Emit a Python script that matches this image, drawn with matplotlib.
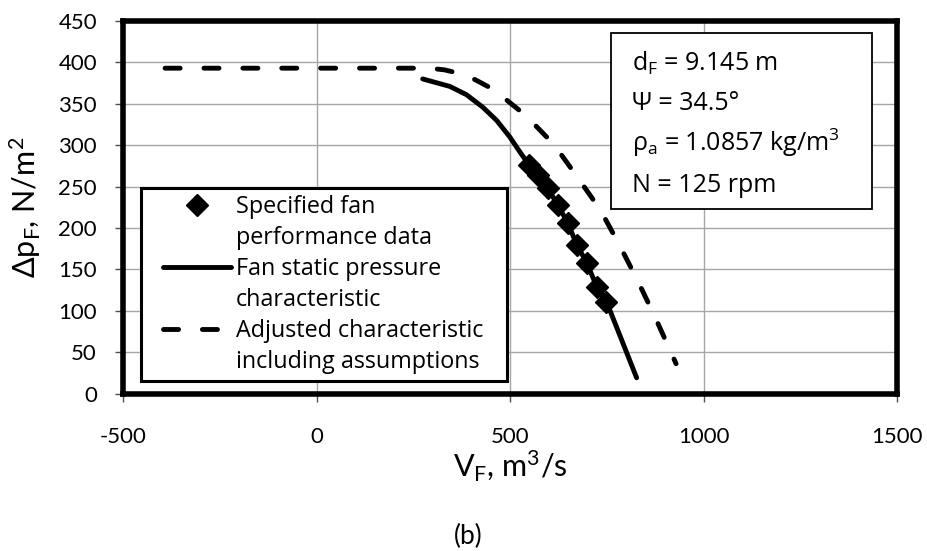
import matplotlib
matplotlib.use('Agg')
import matplotlib.pyplot as plt
from matplotlib.lines import Line2D
from matplotlib.legend_handler import HandlerLine2D
from matplotlib.patches import Rectangle

plt.rcParams['font.family'] = ['Lato', 'DejaVu Sans']
plt.rcParams['mathtext.fontset'] = 'custom'
plt.rcParams['mathtext.rm'] = 'Lato'
plt.rcParams['mathtext.it'] = 'Lato:italic'
plt.rcParams['mathtext.bf'] = 'Lato:bold'
plt.rcParams['axes.unicode_minus'] = False

# ---- data ----
x_ticks = [-500, 0, 500, 1000, 1500]
y_ticks = [0, 50, 100, 150, 200, 250, 300, 350, 400, 450]

spec_V = [549, 571, 597, 623, 649, 672, 698, 724, 749]
spec_p = [276, 264, 248, 228, 206, 180, 158, 129, 111]

fan_V = [274, 344, 387, 429, 465, 499, 525, 549, 571, 597, 623, 649, 672, 698, 724, 749, 783, 827]
fan_p = [380, 371, 361, 346, 330, 310, 292, 276, 264, 248, 228, 206, 180, 158, 129, 111, 71, 19]

adj_V = [-392, 290, 330, 366, 410, 458, 540, 613, 673, 733, 783, 830, 875, 929]
adj_p = [393, 393, 391, 387, 379, 367, 336, 301, 262, 222, 179, 136, 92, 36]

labels = ['Specified fan', 'performance data', 'Fan static pressure',
          'characteristic', 'Adjusted characteristic', 'including assumptions']

info_lines = [r'$\mathregular{d_F}$ = 9.145 m',
              'Ψ = 34.5°',
              r'ρ$\mathregular{_a}$ = 1.0857 kg/m$\mathregular{^3}$',
              'N = 125 rpm']

box_font = ['Open Sans', 'DejaVu Sans']

# ---- figure ----
fig = plt.figure(figsize=(9.27, 5.51), dpi=100)
ax = fig.add_axes([0.1330, 0.2858, 0.8346, 0.6761])
ax.set_xlim(-500, 1500)
ax.set_ylim(0, 450)
ax.set_xticks(x_ticks)
ax.set_yticks(y_ticks)
ax.grid(True, color='#a6a6a6', lw=1.0)
ax.set_axisbelow(True)
for s in ax.spines.values():
    s.set_linewidth(4)
    s.set_color('black')
ax.tick_params(axis='both', direction='out', length=6, width=1.0, color='#505050',
               labelsize=16, labelcolor='black')
ax.tick_params(axis='x', pad=18)
ax.tick_params(axis='y', pad=13)

adj_line, = ax.plot(adj_V, adj_p, color='black', lw=3.5, dashes=(3.1, 4.9),
                    dash_capstyle='round', solid_capstyle='round', zorder=3)
fan_line, = ax.plot(fan_V, fan_p, color='black', lw=3.5, solid_capstyle='round', zorder=3)
spec_pts, = ax.plot(spec_V, spec_p, linestyle='none', marker='D', ms=11,
                    color='black', zorder=4)

blank = Line2D([], [], color='none', lw=0)
leg = ax.legend([spec_pts, blank, fan_line, blank, adj_line, blank], labels,
                loc='upper left', bbox_to_anchor=(0.0232, 0.0389, 0.4723, 0.512),
                mode='expand', borderaxespad=0,
                prop={'family': box_font, 'size': 16.8}, frameon=True, fancybox=False,
                edgecolor='black', framealpha=1, handlelength=3.55, handletextpad=0.22,
                labelspacing=0.3, borderpad=0.3,
                handler_map={Line2D: HandlerLine2D(xpad=0.63)})
leg.get_frame().set_linewidth(2.2)
leg.set_zorder(6)

ax.add_patch(Rectangle((0.631, 0.4946), 0.3367, 0.4744, transform=ax.transAxes,
                       facecolor='white', edgecolor='black', lw=1.3, zorder=6))
for yb, t in zip([0.867, 0.760, 0.651, 0.541], info_lines):
    ax.text(0.6577, yb, t, transform=ax.transAxes, fontsize=18, family=box_font,
            ha='left', va='baseline', zorder=7)

ax.set_xlabel(r'V$\mathregular{_F}$, m$\mathregular{^3}$/s', fontsize=22, va='baseline')
ax.xaxis.set_label_coords(0.5, -0.224)
ax.set_ylabel(r'Δp$\mathregular{_F}$, N/m$\mathregular{^2}$', fontsize=22, va='center')
ax.yaxis.set_label_coords(-0.127, 0.5)

fig.text(468 / 927, 1 - 536 / 551, '(b)', fontsize=19, ha='center', va='center')

fig.savefig('out.png', dpi=100)
